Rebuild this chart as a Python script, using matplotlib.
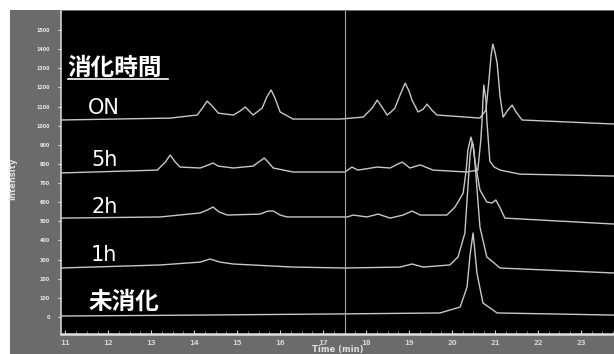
import matplotlib
matplotlib.use("Agg")
import matplotlib.pyplot as plt
from matplotlib.patches import Rectangle
from matplotlib.ticker import MultipleLocator

# retention time (min) / intensity, traces already stacked
on_x = [10.88, 13.44, 14.07, 14.19, 14.30, 14.42, 14.56, 14.91, 15.07, 15.19, 15.28, 15.37,
        15.58, 15.70, 15.79, 15.88, 16.00, 16.30, 17.40, 17.93, 18.14, 18.26, 18.37, 18.49,
        18.58, 18.67, 18.79, 18.91, 19.00, 19.07, 19.21, 19.33, 19.42, 19.53, 19.65, 20.35,
        20.65, 20.79, 20.86, 20.91, 20.95, 21.00, 21.05, 21.12, 21.19, 21.30, 21.40, 21.49,
        21.63, 23.77]
on_y = [1030, 1040, 1056, 1092, 1129, 1103, 1066, 1056, 1077, 1098, 1077, 1056,
        1092, 1155, 1187, 1145, 1072, 1035, 1035, 1045, 1092, 1134, 1098, 1056,
        1072, 1092, 1160, 1223, 1181, 1134, 1072, 1087, 1113, 1082, 1056, 1045,
        1040, 1082, 1239, 1369, 1427, 1385, 1328, 1150, 1045, 1082, 1108, 1072,
        1030, 1009]

h5_x = [10.88, 13.14, 13.33, 13.44, 13.56, 13.67, 14.14, 14.33, 14.44, 14.56, 14.91, 15.37,
        15.53, 15.63, 15.72, 15.84, 16.30, 17.51, 17.67, 17.81, 18.26, 18.56, 18.74, 18.84,
        18.93, 19.02, 19.26, 19.56, 20.35, 20.60, 20.67, 20.70, 20.72, 20.74, 20.79, 20.81,
        20.88, 20.98, 21.12, 21.58, 23.77]
h5_y = [753, 768, 810, 847, 810, 784, 779, 795, 805, 789, 779, 789,
        815, 831, 810, 779, 758, 758, 784, 768, 784, 779, 800, 810,
        795, 779, 795, 768, 758, 768, 925, 1030, 1134, 1213, 1134, 1030,
        815, 784, 768, 747, 737]

h2_x = [10.88, 13.21, 14.14, 14.30, 14.44, 14.58, 14.77, 15.53, 15.72, 15.84, 16.00, 16.16,
        17.56, 17.70, 18.02, 18.28, 18.56, 18.86, 19.07, 19.26, 19.88, 20.07, 20.14, 20.26,
        20.33, 20.37, 20.44, 20.49, 20.53, 20.65, 20.81, 20.93, 21.02, 21.12, 21.23, 23.77]
h2_y = [517, 523, 544, 559, 575, 549, 533, 538, 554, 554, 533, 523,
        523, 533, 523, 538, 517, 533, 554, 533, 533, 575, 601, 648,
        768, 873, 941, 899, 821, 664, 601, 596, 612, 570, 517, 486]

h1_x = [10.88, 13.21, 14.14, 14.37, 14.60, 14.91, 16.30, 17.51, 18.79, 19.07, 19.33, 19.95,
        20.14, 20.30, 20.37, 20.42, 20.47, 20.51, 20.56, 20.65, 20.81, 21.12, 23.77]
h1_y = [256, 272, 287, 303, 287, 277, 261, 256, 261, 277, 261, 272,
        314, 439, 680, 847, 915, 873, 732, 470, 314, 256, 230]

und_x = [10.88, 14.14, 17.40, 19.72, 20.19, 20.35, 20.42, 20.49, 20.53, 20.58, 20.72, 21.05, 23.77]
und_y = [5, 10, 16, 21, 52, 157, 324, 439, 350, 230, 73, 21, 10]

traces = [(on_x, on_y), (h5_x, h5_y), (h2_x, h2_y), (h1_x, h1_y), (und_x, und_y)]
names = ["ON", "5h", "2h", "1h", "未消化"]
name_y = [1092, 821, 575, 324, 78]

x_ticks = list(range(11, 24))
y_ticks = list(range(0, 1501, 100))

fam = ["DejaVu Sans", "Noto Sans CJK JP"]

fig = plt.figure(figsize=(6.14, 3.54), dpi=100)
fig.patch.set_facecolor("white")
# gray scanned panel behind the plot
fig.patches.append(Rectangle((10 / 614, 0), 1, 1 - 10 / 354, transform=fig.transFigure,
                             facecolor="#6b6b6b", edgecolor="none", zorder=-10))

ax = fig.add_axes([61 / 614, 1 - 334 / 354, 1 - 61 / 614, (334 - 11) / 354])
ax.set_facecolor("black")

for x, y in traces:
    ax.plot(x, y, color="#c8c8c8", lw=1.0)

ax.axvline(17.51, color="#a8a8a8", lw=0.8)

ax.set_xlim(10.9, 23.77)
ax.set_ylim(-89, 1600)
ax.set_xticks(x_ticks)
ax.set_yticks(y_ticks)
ax.xaxis.set_minor_locator(MultipleLocator(0.25))
ax.tick_params(axis="x", which="major", colors="#d0d0d0", labelsize=5, length=3, direction="in", pad=4)
ax.tick_params(axis="x", which="minor", colors="#999999", length=2, direction="in")
ax.tick_params(axis="y", colors="#e8e8e8", labelsize=3.5, length=2, pad=6)
for lab in ax.get_yticklabels() + ax.get_xticklabels():
    lab.set_fontweight("bold")

for side in ["top", "right"]:
    ax.spines[side].set_visible(False)
ax.spines["bottom"].set_color("#e0e0e0")
ax.spines["bottom"].set_linewidth(1.8)
ax.spines["left"].set_color("#d0d0d0")
ax.spines["left"].set_linewidth(1.2)

ax.set_xlabel("Time (min)", color="#e0e0e0", fontsize=6, fontweight="bold")
ax.xaxis.set_label_coords(0.5, -0.035)
ax.set_ylabel("Intensity", color="#e0e0e0", fontsize=6, fontweight="bold")
ax.yaxis.set_label_coords(-0.08, 0.48)

ax.text(11.05, 1301, "消化時間", color="white", fontsize=17, family=fam, va="center",
        fontweight="bold")
ax.plot([11.07, 13.4], [1244, 1244], color="white", lw=1.2)
for name, yy in zip(names, name_y):
    if name == "未消化":
        ax.text(11.55, yy, name, color="white", fontsize=17, family=fam, va="center",
                fontweight="bold")
    else:
        xx = 11.52 if name == "ON" else 11.6
        ax.text(xx, yy, name, color="white", fontsize=15, family=fam, va="center")

fig.savefig("out.png", dpi=100, facecolor=fig.get_facecolor())
